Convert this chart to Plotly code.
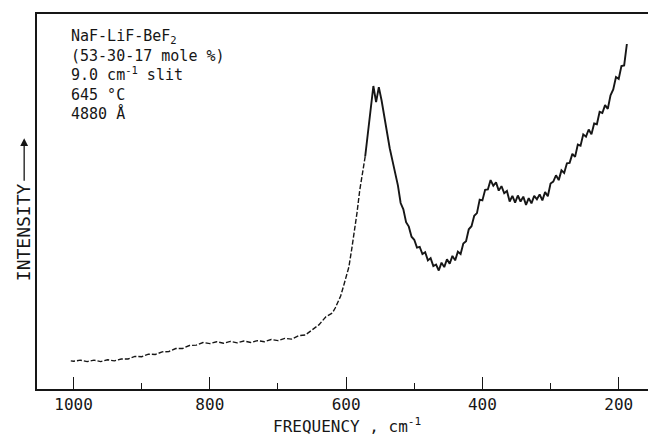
import plotly.graph_objects as go

# Raman spectrum of molten NaF-LiF-BeF2, intensity in arbitrary units
freq_fine = [188, 192, 196, 200, 204, 208, 212, 216, 220, 224, 228, 232, 236, 240,
             244, 248, 252, 256, 260, 264, 268, 272, 276, 280, 284, 288, 292, 296,
             300, 304, 308, 312, 316, 320, 324, 328, 332, 336, 340, 344, 348, 352,
             356, 360, 364, 368, 372, 376, 380, 384, 388, 392, 396, 400, 404, 408,
             412, 416, 420, 424, 428, 432, 436, 440, 444, 448, 452, 456, 460, 464,
             468, 472, 476, 480, 484, 488, 492, 496, 500, 504, 508, 512, 516, 520,
             524, 528, 532, 536, 540, 544, 548, 552, 556, 560, 564, 568, 572]
inten_fine = [92.0, 86.3, 86.1, 82.7, 83.2, 79.9, 78.3, 74.7, 75.7, 73.6, 73.9, 70.6,
              70.8, 67.9, 69.2, 67.3, 67.9, 64.9, 65.2, 61.9, 62.7, 60.3, 60.2, 57.6,
              58.3, 55.7, 57.0, 55.3, 54.8, 51.4, 52.5, 50.3, 51.9, 50.6, 51.5, 49.5,
              50.9, 49.1, 51.3, 50.0, 51.6, 49.7, 51.5, 50.0, 52.8, 52.2, 54.1, 52.9,
              55.1, 54.2, 55.7, 53.2, 53.1, 50.3, 50.5, 46.9, 46.2, 43.4, 42.6, 39.4,
              38.8, 36.0, 36.6, 34.3, 35.5, 33.4, 34.6, 32.5, 33.7, 31.6, 33.2, 32.8,
              34.9, 34.3, 36.5, 36.0, 37.9, 37.7, 39.8, 40.6, 43.3, 44.5, 47.9, 49.6,
              54.3, 57.2, 60.9, 64.2, 68.6, 72.1, 77.0, 80.5, 76.5, 80.8, 74.5, 67.0,
              62.0]

freq_wing = [572, 576, 580, 584, 588, 592, 596, 600, 604, 608, 612, 616, 620, 630,
             640, 650, 660, 670, 680, 690, 700, 710, 720, 730, 740, 750, 760, 770,
             780, 790, 800, 810, 820, 830, 840, 850, 860, 870, 880, 890, 900, 910,
             920, 930, 940, 950, 960, 970, 980, 990, 1000, 1004]
inten_wing = [62.0, 58.0, 53.0, 47.0, 41.5, 37.0, 32.5, 29.5, 27.3, 24.8, 23.0, 21.6,
              20.3, 19.2, 17.1, 15.8, 14.4, 14.2, 13.3, 13.5, 12.9, 13.2, 12.6, 12.9,
              12.4, 12.8, 12.3, 12.7, 12.2, 12.6, 12.1, 12.4, 11.7, 11.6, 10.8, 10.8,
              10.0, 9.9, 9.2, 9.3, 8.6, 8.7, 8.0, 8.0, 7.5, 7.8, 7.3, 7.7, 7.3, 7.7,
              7.4, 7.5]

tick_vals = [1000, 800, 600, 400, 200]
tick_text = ["1000", "800", "600", "400", "200"]
minor_vals = [900, 700, 500, 300]

legend_lines = ["NaF-LiF-BeF<sub>2</sub>",
                "(53-30-17 mole %)",
                "9.0 cm<sup>-1</sup> slit",
                "645 °C",
                "4880 Å"]

INK = "#161616"
FONT = "DejaVu Sans Mono"

fig = go.Figure()
fig.add_trace(go.Scatter(x=freq_fine, y=inten_fine, mode="lines",
                         line=dict(color=INK, width=1.9), hoverinfo="skip"))
fig.add_trace(go.Scatter(x=freq_wing, y=inten_wing, mode="lines",
                         line=dict(color=INK, width=1.4, dash="5px,2px"),
                         hoverinfo="skip"))

annotations = [
    dict(text="<br>".join(legend_lines), x=0.0524, y=0.972, xref="paper",
         yref="paper", xanchor="left", yanchor="top", align="left",
         showarrow=False, font=dict(family=FONT, size=15, color=INK)),
    dict(text="FREQUENCY , cm<sup>-1</sup>", x=0.508, y=-0.097,
         xref="paper", yref="paper", xanchor="center", yanchor="middle",
         showarrow=False, font=dict(family=FONT, size=16, color=INK)),
    dict(text="INTENSITY", x=-0.021, y=0.4187, xref="paper", yref="paper",
         xanchor="center", yanchor="middle", textangle=-90, showarrow=False,
         font=dict(family=FONT, size=18, color=INK)),
    dict(text="", x=-0.021, y=0.669, xref="paper", yref="paper",
         showarrow=True, ax=0, ay=44, arrowhead=2, arrowsize=1.2,
         arrowwidth=1.3, arrowcolor=INK),
]

fig.update_layout(
    width=648, height=435,
    margin=dict(l=37, r=0, t=14, b=46),
    paper_bgcolor="white", plot_bgcolor="white",
    showlegend=False,
    annotations=annotations,
    xaxis=dict(range=[1053.6, 157], showgrid=False, zeroline=False,
               showline=True, linecolor=INK, linewidth=1.5, mirror=True,
               ticks="inside", ticklen=12, tickwidth=1.4, tickcolor=INK,
               tickvals=tick_vals, ticktext=tick_text,
               tickfont=dict(family=FONT, size=16, color=INK),
               minor=dict(tickvals=minor_vals, ticks="inside",
                          ticklen=6, tickwidth=1.3, tickcolor=INK)),
    yaxis=dict(range=[0, 100], showgrid=False, zeroline=False,
               showline=True, linecolor=INK, linewidth=1.5, mirror=False,
               showticklabels=False, ticks=""),
)

fig.write_html("out.html")
